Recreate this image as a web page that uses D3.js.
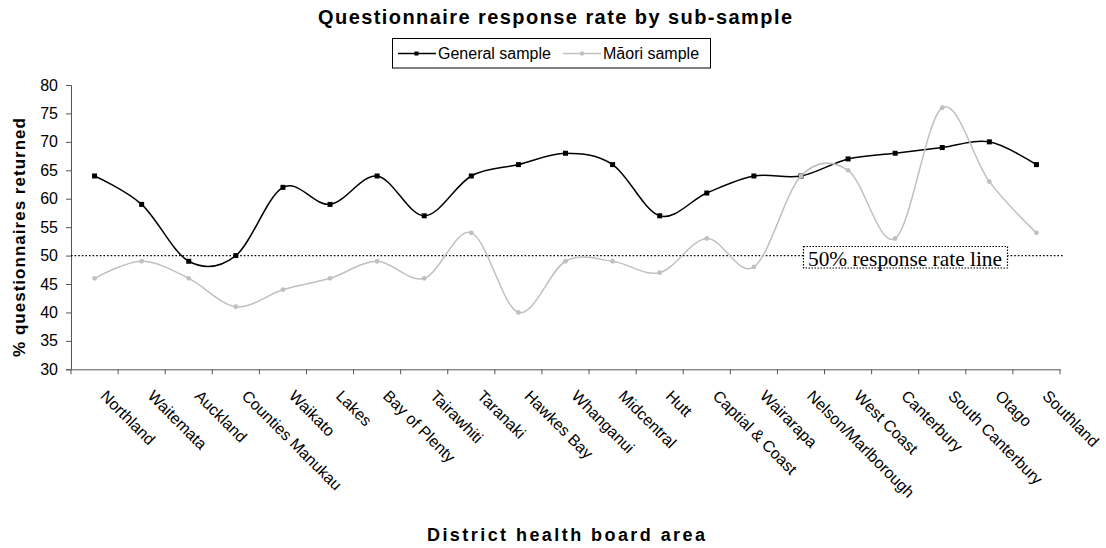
<!DOCTYPE html>
<html>
<head>
<meta charset="utf-8">
<script src="https://cdn.jsdelivr.net/npm/d3@7"></script>
<style>
  html, body { margin: 0; padding: 0; background: #fff; }
  svg { display: block; }
</style>
</head>
<body>
<script>
// District health boards, in the order they appear along the x axis
const districts = [
  "Northland", "Waitemata", "Auckland", "Counties Manukau", "Waikato", "Lakes",
  "Bay of Plenty", "Tairawhiti", "Taranaki", "Hawkes Bay", "Whanganui",
  "Midcentral", "Hutt", "Captial & Coast", "Wairarapa", "Nelson/Marlborough",
  "West Coast", "Canterbury", "South Canterbury", "Otago", "Southland"
];

// % of questionnaires returned
const generalSample = [64, 59, 49, 50, 62, 59, 64, 57, 64, 66, 68, 66, 57, 61, 64, 64, 67, 68, 69, 70, 66];
const maoriSample   = [46, 49, 46, 41, 44, 46, 49, 46, 54, 40, 49, 49, 47, 53, 48, 64, 65, 53, 76, 63, 54];

const yTicks = [30, 35, 40, 45, 50, 55, 60, 65, 70, 75, 80];
const referenceLevel = 50;

const W = 1106, H = 548;
const plot = { left: 71, right: 1060, top: 85, bottom: 369.3 };
const sans = "'Liberation Sans', Arial, sans-serif";
const serif = "'Liberation Serif', 'Times New Roman', serif";

const svg = d3.select("body").append("svg")
  .attr("width", W).attr("height", H)
  .style("font-family", sans);

const x = d3.scaleBand().domain(districts).range([plot.left, plot.right]).padding(0);
const y = d3.scaleLinear().domain([30, 80]).range([plot.bottom, plot.top]);
const cx = d => x(d) + x.bandwidth() / 2;

// Title
svg.append("text")
  .attr("x", 555).attr("y", 24)
  .attr("text-anchor", "middle")
  .attr("font-size", 20).attr("font-weight", "bold")
  .attr("textLength", 474).attr("lengthAdjust", "spacing")
  .text("Questionnaire response rate by sub-sample");

// Legend
const legend = svg.append("g");
legend.append("rect")
  .attr("x", 392.5).attr("y", 38.5).attr("width", 318).attr("height", 29.5)
  .attr("fill", "#fff").attr("stroke", "#000").attr("stroke-width", 1);
const legendItems = [
  { label: "General sample", color: "#000", x0: 398, shape: "square" },
  { label: "M\u0101ori sample", color: "#c0c0c0", x0: 563, shape: "circle" }
];
legendItems.forEach(it => {
  legend.append("line")
    .attr("x1", it.x0).attr("x2", it.x0 + 38).attr("y1", 53.5).attr("y2", 53.5)
    .attr("stroke", it.color).attr("stroke-width", 1.5);
  if (it.shape === "square") {
    legend.append("rect").attr("x", it.x0 + 16.5).attr("y", 51.5).attr("width", 4).attr("height", 4).attr("fill", it.color);
  } else {
    legend.append("circle").attr("cx", it.x0 + 19).attr("cy", 53.5).attr("r", 2.2).attr("fill", it.color);
  }
  legend.append("text")
    .attr("x", it.x0 + 40).attr("y", 59)
    .attr("font-size", 16)
    .text(it.label);
});

// Axes
const axisColor = "#555";
const yAxis = svg.append("g")
  .attr("transform", `translate(${plot.left},0)`)
  .call(d3.axisLeft(y).tickValues(yTicks).tickSize(5).tickPadding(8));
yAxis.select(".domain").attr("stroke", axisColor);
yAxis.selectAll(".tick line").attr("stroke", axisColor);
yAxis.selectAll(".tick text").attr("font-size", 16).attr("font-family", sans).attr("fill", "#000");

const xAxis = svg.append("g")
  .attr("transform", `translate(0,${plot.bottom})`)
  .call(d3.axisBottom(x).tickSize(0).tickFormat(""));
xAxis.select(".domain").attr("stroke", axisColor);

// Tick marks on the category boundaries
const boundaries = d3.range(districts.length + 1).map(i => plot.left + i * x.step());
svg.append("g").selectAll("line").data(boundaries).join("line")
  .attr("x1", d => d).attr("x2", d => d)
  .attr("y1", plot.bottom).attr("y2", plot.bottom + 5)
  .attr("stroke", axisColor);

// Slanted category labels
svg.append("g").selectAll("text").data(districts).join("text")
  .attr("transform", d => `translate(${cx(d) + 5},397) rotate(45)`)
  .attr("font-size", 16)
  .text(d => d);

// Axis titles
svg.append("text")
  .attr("transform", `translate(25,237.5) rotate(-90)`)
  .attr("text-anchor", "middle")
  .attr("font-size", 17).attr("font-weight", "bold")
  .attr("textLength", 239).attr("lengthAdjust", "spacing")
  .text("% questionnaires returned");

svg.append("text")
  .attr("x", 566).attr("y", 541)
  .attr("text-anchor", "middle")
  .attr("font-size", 18).attr("font-weight", "bold")
  .attr("textLength", 278).attr("lengthAdjust", "spacing")
  .text("District health board area");

// 50% reference line
svg.append("line")
  .attr("x1", plot.left).attr("x2", 1064)
  .attr("y1", y(referenceLevel)).attr("y2", y(referenceLevel))
  .attr("stroke", "#000").attr("stroke-width", 1.4)
  .attr("stroke-dasharray", "1.6,2");

// Series (smoothed lines, as Catmull-Rom through each point)
const line = d3.line()
  .x((v, i) => cx(districts[i]))
  .y(v => y(v))
  .curve(d3.curveCardinal.tension(0));

const seriesG = svg.append("g");
seriesG.append("path").datum(generalSample)
  .attr("d", line).attr("fill", "none")
  .attr("stroke", "#000").attr("stroke-width", 1.5);
seriesG.append("g").selectAll("rect").data(generalSample).join("rect")
  .attr("x", (v, i) => cx(districts[i]) - 2.5)
  .attr("y", v => y(v) - 2.5)
  .attr("width", 5).attr("height", 5)
  .attr("fill", "#000");

seriesG.append("path").datum(maoriSample)
  .attr("d", line).attr("fill", "none")
  .attr("stroke", "#c0c0c0").attr("stroke-width", 1.5);
seriesG.append("g").selectAll("circle").data(maoriSample).join("circle")
  .attr("cx", (v, i) => cx(districts[i]))
  .attr("cy", v => y(v))
  .attr("r", 2.4)
  .attr("fill", "#c0c0c0");

// Reference line label
const note = svg.append("g");
note.append("rect")
  .attr("x", 803.5).attr("y", 246.5).attr("width", 204).attr("height", 21.5)
  .attr("fill", "#fff").attr("stroke", "#000").attr("stroke-width", 1.2)
  .attr("stroke-dasharray", "1.5,1.5");
note.append("text")
  .attr("x", 808).attr("y", 265.5)
  .attr("font-family", serif).attr("font-size", 21.5)
  .attr("textLength", 194).attr("lengthAdjust", "spacingAndGlyphs")
  .text("50% response rate line");
</script>
</body>
</html>
